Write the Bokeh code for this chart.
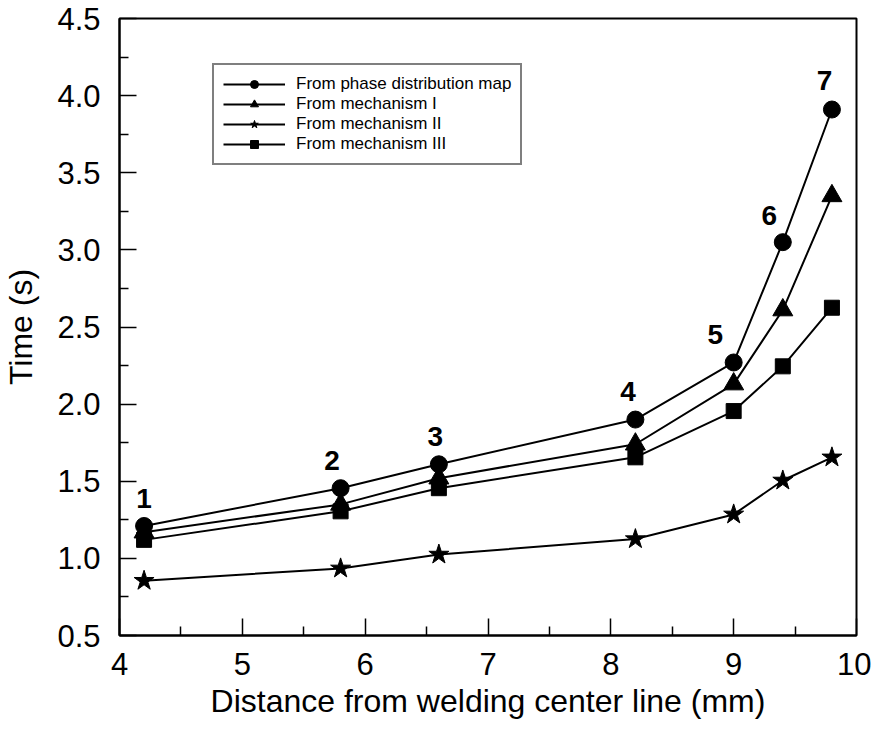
from bokeh.plotting import figure
from bokeh.models import Range1d, FixedTicker, PrintfTickFormatter, ColumnDataSource
from bokeh.core.properties import value
from bokeh.embed import file_html
from bokeh.resources import INLINE

# ---- data ----
distance = [4.2, 5.8, 6.6, 8.2, 9.0, 9.4, 9.8]
phase_map = [1.21, 1.455, 1.61, 1.90, 2.27, 3.05, 3.91]
mech_I = [1.17, 1.35, 1.52, 1.74, 2.13, 2.61, 3.35]
mech_II = [0.855, 0.935, 1.025, 1.125, 1.285, 1.505, 1.655]
mech_III = [1.12, 1.305, 1.455, 1.655, 1.955, 2.245, 2.625]

point_labels = ["1", "2", "3", "4", "5", "6", "7"]
label_x = [4.20, 5.73, 6.57, 8.14, 8.85, 9.29, 9.74]
label_y = [1.39, 1.635, 1.79, 2.08, 2.45, 3.22, 4.10]

x_ticks = [4, 5, 6, 7, 8, 9, 10]
x_minor = [4.5, 5.5, 6.5, 7.5, 8.5, 9.5]
y_ticks = [0.5, 1.0, 1.5, 2.0, 2.5, 3.0, 3.5, 4.0, 4.5]
y_minor = [0.75, 1.25, 1.75, 2.25, 2.75, 3.25, 3.75, 4.25]

series = [
    ("From phase distribution map", phase_map, "circle", 17),
    ("From mechanism I", mech_I, "triangle", 20),
    ("From mechanism II", mech_II, "star", 21),
    ("From mechanism III", mech_III, "square", 15),
]

FONT = "Liberation Sans"

p = figure(width=871, height=733, output_backend="svg", toolbar_location=None,
           x_range=Range1d(4, 10), y_range=Range1d(0.5, 4.5),
           min_border_left=119, min_border_top=18, min_border_right=15,
           min_border_bottom=98)

p.xgrid.visible = False
p.ygrid.visible = False
p.outline_line_color = "black"
p.outline_line_width = 2
p.outline_line_alpha = 1.0
p.background_fill_color = "white"
p.border_fill_color = "white"

for label, ys, marker, size in series:
    src = ColumnDataSource(dict(x=distance, y=ys))
    p.line("x", "y", source=src, line_color="black", line_width=2, legend_label=label)
    p.scatter("x", "y", source=src, marker=marker, size=size, fill_color="black",
              line_color="black", legend_label=label)

p.text(x=label_x, y=label_y, text=point_labels, text_align="center",
       text_baseline="middle", text_font=value(FONT), text_font_size="28px",
       text_font_style="bold", text_color="black")

p.xaxis.ticker = FixedTicker(ticks=x_ticks, minor_ticks=x_minor)
p.yaxis.ticker = FixedTicker(ticks=y_ticks, minor_ticks=y_minor)
p.xaxis.formatter = PrintfTickFormatter(format="%d")
p.yaxis.formatter = PrintfTickFormatter(format="%.1f")

for ax in (p.xaxis[0], p.yaxis[0]):
    ax.axis_line_width = 2
    ax.axis_line_color = "black"
    ax.major_tick_in = 17
    ax.major_tick_out = 0
    ax.minor_tick_in = 9
    ax.minor_tick_out = 0
    ax.major_tick_line_width = 1.5
    ax.minor_tick_line_width = 1.5
    ax.major_tick_line_color = "black"
    ax.minor_tick_line_color = "black"
    ax.major_label_text_font = FONT
    ax.major_label_text_font_size = "31px"
    ax.major_label_text_color = "black"
    ax.axis_label_text_font = FONT
    ax.axis_label_text_font_size = "32px"
    ax.axis_label_text_font_style = "normal"
    ax.axis_label_text_color = "black"

p.xaxis.axis_label = "Distance from welding center line (mm)"
p.yaxis.axis_label = "Time (s)"
p.xaxis.major_label_standoff = 17
p.yaxis.major_label_standoff = 19
p.xaxis.axis_label_standoff = 5
p.yaxis.axis_label_standoff = 15

lg = p.legend[0]
lg.location = (93, 470)
lg.border_line_color = "black"
lg.border_line_width = 2
lg.background_fill_alpha = 1.0
lg.label_text_font = FONT
lg.label_text_font_size = "17px"
lg.label_text_color = "black"
lg.glyph_width = 62
lg.glyph_height = 20
lg.label_height = 20
lg.spacing = 0
lg.padding = 9
lg.margin = 0
lg.label_standoff = 11

open("out.html", "w").write(file_html(p, INLINE))
